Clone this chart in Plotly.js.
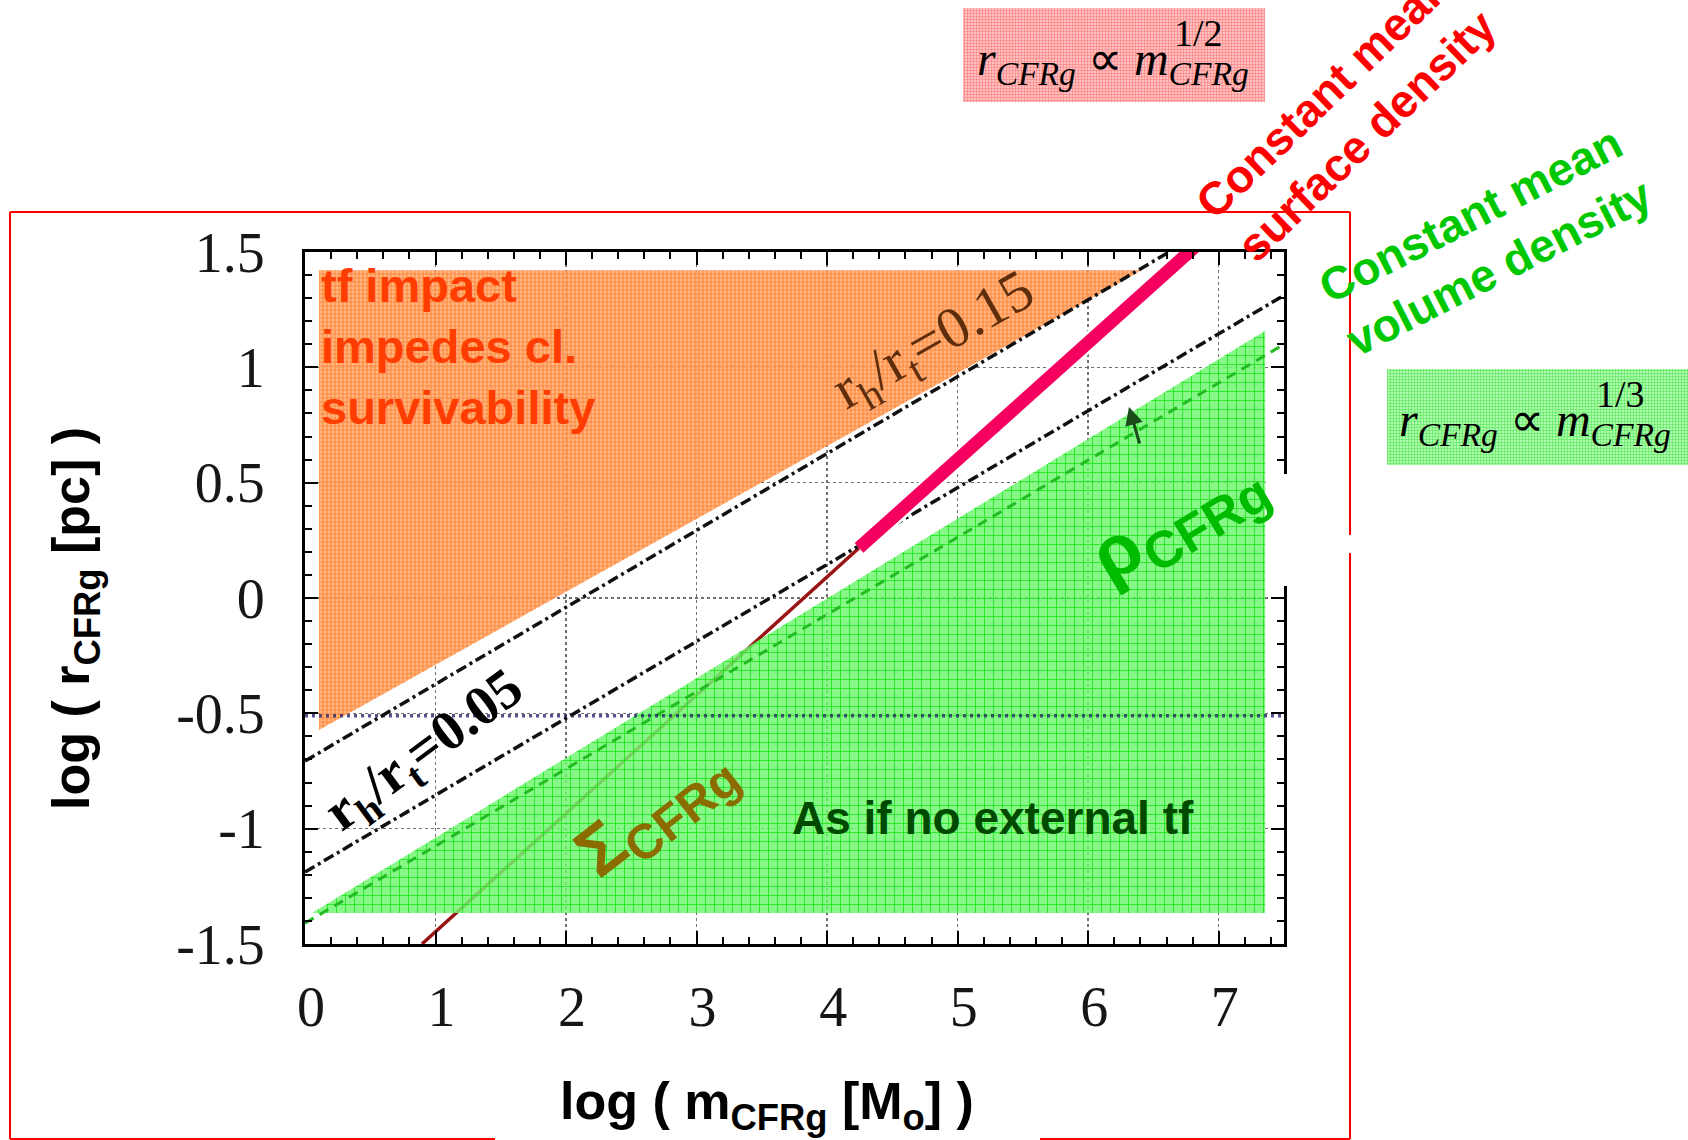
<!DOCTYPE html>
<html>
<head>
<meta charset="utf-8">
<script src="https://cdn.plot.ly/plotly-3.0.1.min.js"></script>
<style>
  html, body { margin: 0; padding: 0; background: #ffffff; }
  #chart { width: 1688px; height: 1140px; }
</style>
</head>
<body>
<div id="chart"></div>
<script>
// figure size and the axes frame, in figure pixels
const W = 1688, H = 1140;
const FRAME = { left: 305, right: 1284, top: 252, bottom: 944 };

// axis ticks
const xTickVals = [0, 1, 2, 3, 4, 5, 6, 7];
const xTickText = ['0', '1', '2', '3', '4', '5', '6', '7'];
const yTickVals = [-1.5, -1, -0.5, 0, 0.5, 1, 1.5];
const yTickText = ['-1.5', '-1', '-0.5', '0', '0.5', '1', '1.5'];

// zone where the tidal field impedes cluster survivability
const tfZoneX = [0.107, 6.41, 0.107];
const tfZoneY = [1.421, 1.421, -0.572];

// zone that evolves as if there were no external tidal field
const isoZoneX = [0.054, 7.356, 7.356];
const isoZoneY = [-1.366, -1.366, 1.159];

// r_h / r_t = 0.15 and r_h / r_t = 0.05 (dash-dot)
const rt015X = [0, 6.62];
const rt015Y = [-0.707, 1.5];
const rt005X = [0, 7.5];
const rt005Y = [-1.188, 1.312];

// constant mean surface density: thin part and highlighted part
const sigmaX = [0.896, 4.244];
const sigmaY = [-1.5, 0.217];
const sigmaHiX = [4.244, 6.872];
const sigmaHiY = [0.217, 1.55];

// constant mean volume density
const rhoX = [0, 7.5];
const rhoY = [-1.41, 1.10];

// horizontal reference level
const levelX = [0, 7.5];
const levelY = [-0.51, -0.51];

// figure-pixel helpers (margins are zero, so paper == figure)
const fx = px => px / W;
const fy = py => 1 - py / H;

const SANS = 'Liberation Sans, Arial, sans-serif';
const SERIF = 'Liberation Serif, Times New Roman, serif';

const traces = [
  { x: sigmaX, y: sigmaY, mode: 'lines', line: { color: '#9a1414', width: 3.5 }, hoverinfo: 'skip' },
  {
    x: tfZoneX, y: tfZoneY, mode: 'lines', fill: 'toself', line: { width: 0 },
    fillcolor: 'rgba(255,165,105,0.9)',
    fillpattern: { shape: '+', size: 4, solidity: 0.3, fgcolor: '#ff7518', bgcolor: 'rgba(255,170,115,0.88)' },
    hoverinfo: 'skip'
  },
  {
    x: isoZoneX, y: isoZoneY, mode: 'lines', fill: 'toself', line: { width: 0 },
    fillcolor: 'rgba(115,245,115,0.85)',
    fillpattern: { shape: '+', size: 9, solidity: 0.16, fgcolor: '#10e410', bgcolor: 'rgba(112,246,112,0.84)' },
    hoverinfo: 'skip'
  },
  { x: rhoX, y: rhoY, mode: 'lines', line: { color: '#22bb22', width: 3, dash: '10px,7px' }, hoverinfo: 'skip' },
  { x: levelX, y: levelY, mode: 'lines', line: { color: 'rgba(40,40,110,0.8)', width: 3.5, dash: '3px,4px' }, hoverinfo: 'skip' },
  { x: rt015X, y: rt015Y, mode: 'lines', line: { color: '#111111', width: 3.5, dash: '11px,4px,3px,4px' }, hoverinfo: 'skip' },
  { x: rt005X, y: rt005Y, mode: 'lines', line: { color: '#111111', width: 3.5, dash: '11px,4px,3px,4px' }, hoverinfo: 'skip' },
  { x: sigmaHiX, y: sigmaHiY, mode: 'lines', line: { color: '#ffffff', width: 18 }, hoverinfo: 'skip' },
  { x: sigmaHiX, y: sigmaHiY, mode: 'lines', line: { color: '#f5005f', width: 13 }, hoverinfo: 'skip' },
  // empty trace that brings up the top/right tick overlay
  { x: [], y: [], xaxis: 'x3', yaxis: 'y3', mode: 'lines', hoverinfo: 'skip' },
];

// formula boxes, placed on a full-figure overlay subplot
const boxes = [
  { x0: 963, x1: 1265, y0: 8, y1: 102, fg: '#ff8585', bg: '#ffc0c0' },
  { x0: 1387, x1: 1688, y0: 369, y1: 465, fg: '#5eec5e', bg: '#b0f9b0' },
];
boxes.forEach(b => {
  traces.push({
    x: [b.x0, b.x1, b.x1, b.x0, b.x0], y: [b.y0, b.y0, b.y1, b.y1, b.y0],
    xaxis: 'x2', yaxis: 'y2', mode: 'lines', fill: 'toself', line: { width: 0 },
    fillcolor: b.bg,
    fillpattern: { shape: '+', size: 3, solidity: 0.4, fgcolor: b.fg, bgcolor: b.bg },
    hoverinfo: 'skip'
  });
});

function ann(text, px, py, opts) {
  return Object.assign({
    text: text, xref: 'paper', yref: 'paper', x: fx(px), y: fy(py),
    xanchor: 'center', yanchor: 'middle', showarrow: false
  }, opts);
}

const annotations = [
  // axis titles
  ann('log ( r<sub>CFRg</sub> [pc] )', 75, 619, { textangle: -90, font: { family: SANS, size: 52, weight: 'bold', color: '#000' } }),
  ann('log ( m<sub>CFRg</sub> [M<sub>o</sub>] )', 767, 1105, { font: { family: SANS, size: 52, weight: 'bold', color: '#000' } }),
  // zone labels
  ann('tf impact<br>impedes cl.<br>survivability', 319, 347, { xanchor: 'left', align: 'left', font: { family: SANS, size: 47, weight: 'bold', color: '#ff3d00' } }),
  ann('As if no external tf', 993, 818, { font: { family: SANS, size: 46, weight: 'bold', color: '#004a00' } }),
  ann('Σ<sub>CFRg</sub>', 655, 812, { textangle: -38, font: { family: SANS, size: 70, weight: 'bold', color: '#8a6c00' } }),
  ann('ρ<sub>CFRg</sub>', 1178, 520, { textangle: -31, font: { family: SANS, size: 74, weight: 'bold', color: '#00bb00' } }),
  ann('r<sub>h</sub>/r<sub>t</sub>=0.15', 934, 342, { textangle: -29.5, font: { family: SERIF, size: 58, color: '#5e2e0c' } }),
  ann('r<sub>h</sub>/r<sub>t</sub>=0.05', 425, 752, { textangle: -36.5, font: { family: SERIF, size: 56, weight: 'bold', color: '#000' } }),
  // density-law captions
  ann('Constant mean<br>surface density', 1346, 114, { textangle: -44, align: 'left', font: { family: SANS, size: 46, weight: 'bold', color: '#ff0000' } }),
  ann('Constant mean<br>volume density', 1485, 241, { textangle: -27, align: 'left', font: { family: SANS, size: 46, weight: 'bold', color: '#00c800' } }),
  // formulas
  ann('<i>r</i><sub><i>CFRg</i></sub> ∝ <i>m</i><sub><i>CFRg</i></sub>', 975, 62, { xanchor: 'left', font: { family: SERIF, size: 48, color: '#000' } }),
  ann('1/2', 1198, 33, { font: { family: SERIF, size: 38, color: '#000' } }),
  ann('<i>r</i><sub><i>CFRg</i></sub> ∝ <i>m</i><sub><i>CFRg</i></sub>', 1397, 423, { xanchor: 'left', font: { family: SERIF, size: 48, color: '#000' } }),
  ann('1/3', 1620, 394, { font: { family: SERIF, size: 38, color: '#000' } }),
  // small arrow in the volume-density zone
  { xref: 'paper', yref: 'paper', x: fx(1129), y: fy(407), ax: 11, ay: 38, axref: 'pixel', ayref: 'pixel',
    showarrow: true, arrowhead: 2, arrowsize: 1.2, arrowwidth: 3, arrowcolor: '#1a4d1a', text: '' },
];

const red = { color: '#ff0000', width: 2 };
const shapes = [
  // white patch over the right frame edge
  { type: 'rect', xref: 'paper', yref: 'paper', x0: fx(1266), x1: fx(1302), y0: fy(474), y1: fy(586),
    fillcolor: '#ffffff', line: { width: 0 }, layer: 'above' },
  // outer red border (open where the x title sits and on the right edge)
  { type: 'line', xref: 'paper', yref: 'paper', x0: fx(10), x1: fx(10), y0: fy(212), y1: fy(1139), line: red },
  { type: 'line', xref: 'paper', yref: 'paper', x0: fx(10), x1: fx(1350), y0: fy(212), y1: fy(212), line: red },
  { type: 'line', xref: 'paper', yref: 'paper', x0: fx(1350), x1: fx(1350), y0: fy(212), y1: fy(535), line: red },
  { type: 'line', xref: 'paper', yref: 'paper', x0: fx(1350), x1: fx(1350), y0: fy(553), y1: fy(1139), line: red },
  { type: 'line', xref: 'paper', yref: 'paper', x0: fx(10), x1: fx(495), y0: fy(1139), y1: fy(1139), line: red },
  { type: 'line', xref: 'paper', yref: 'paper', x0: fx(1040), x1: fx(1350), y0: fy(1139), y1: fy(1139), line: red },
];

const tickFont = { family: SERIF, size: 56, color: '#161616' };
const axisCommon = {
  ticks: 'inside', ticklen: 13, tickwidth: 2, tickcolor: '#000',
  showline: true, linewidth: 3, linecolor: '#000', mirror: 'allticks',
  showgrid: true, gridcolor: '#707070', griddash: 'dot', gridwidth: 1.5,
  zeroline: false, tickfont: tickFont, automargin: false, fixedrange: true
};
const minorX = { ticks: 'inside', dtick: 0.2, ticklen: 7, tickwidth: 2, tickcolor: '#000', showgrid: false };
const minorY = { ticks: 'inside', dtick: 0.1, ticklen: 7, tickwidth: 2, tickcolor: '#000', showgrid: false };
const xDomain = [FRAME.left / W, FRAME.right / W];
const yDomain = [1 - FRAME.bottom / H, 1 - FRAME.top / H];

const layout = {
  width: W, height: H,
  margin: { l: 0, r: 0, t: 0, b: 0 },
  paper_bgcolor: '#ffffff', plot_bgcolor: 'rgba(0,0,0,0)',
  showlegend: false,
  xaxis: Object.assign({}, axisCommon, {
    domain: xDomain, range: [0, 7.5],
    tickmode: 'array', tickvals: xTickVals, ticktext: xTickText, anchor: 'y',
    ticklabelstandoff: 12, ticklabelshift: 6, minor: minorX
  }),
  yaxis: Object.assign({}, axisCommon, {
    domain: yDomain, range: [-1.5, 1.5],
    tickmode: 'array', tickvals: yTickVals, ticktext: yTickText, anchor: 'x',
    ticklabelstandoff: 26, minor: minorY
  }),
  // top and right tick rows
  xaxis3: {
    overlaying: 'x', side: 'top', anchor: 'y3', range: [0, 7.5], tickmode: 'array', tickvals: xTickVals,
    ticks: 'inside', ticklen: 13, tickwidth: 2, tickcolor: '#000', showticklabels: false,
    showline: false, showgrid: false, zeroline: false, minor: minorX, fixedrange: true
  },
  yaxis3: {
    overlaying: 'y', side: 'right', anchor: 'x3', range: [-1.5, 1.5], tickmode: 'array', tickvals: yTickVals,
    ticks: 'inside', ticklen: 13, tickwidth: 2, tickcolor: '#000', showticklabels: false,
    showline: false, showgrid: false, zeroline: false, minor: minorY, fixedrange: true
  },
  xaxis2: { domain: [0, 1], range: [0, W], visible: false, anchor: 'y2', fixedrange: true },
  yaxis2: { domain: [0, 1], range: [H, 0], visible: false, anchor: 'x2', fixedrange: true },
  annotations: annotations,
  shapes: shapes
};

Plotly.newPlot('chart', traces, layout, { staticPlot: true, displayModeBar: false });
</script>
</body>
</html>
